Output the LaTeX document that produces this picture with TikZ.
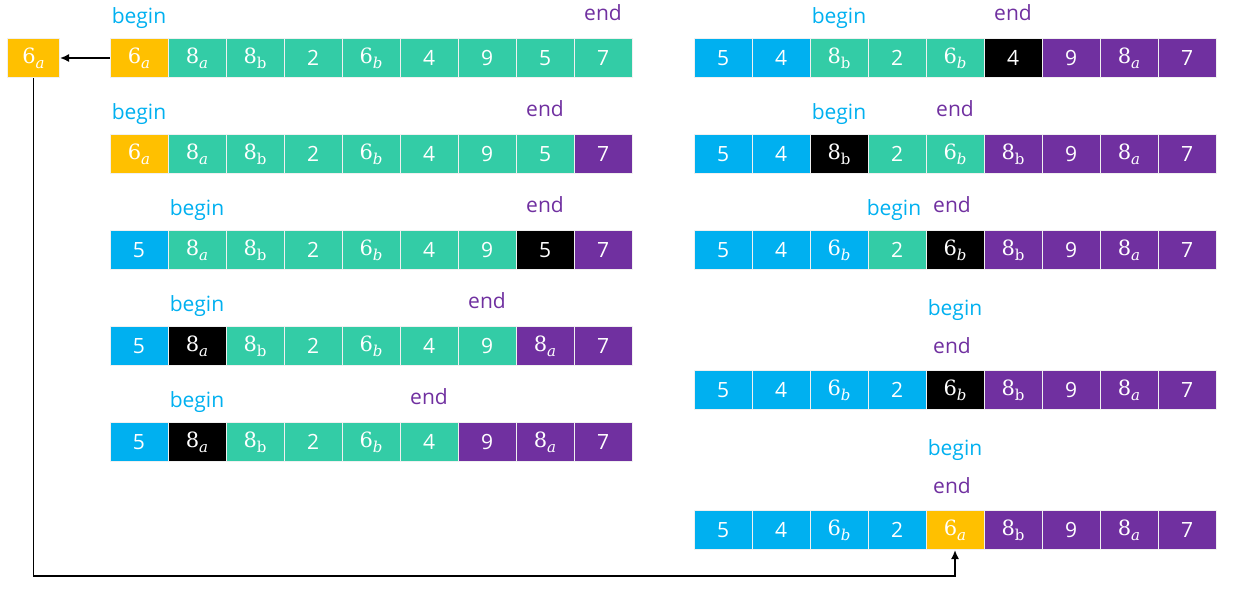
\documentclass[tikz,border=0pt]{standalone}
\usepackage{fontspec}
\newfontfamily\osans{Open Sans}
\newfontfamily\dserif{DejaVu Serif}
\usepackage{tikz}
\usetikzlibrary{arrows.meta,positioning}
\definecolor{blu}{HTML}{00B0F0}
\definecolor{grn}{HTML}{33CCA6}
\definecolor{pur}{HTML}{7030A0}
\definecolor{yel}{HTML}{FFC000}
\definecolor{blk}{HTML}{000000}
\newcommand{\subs}[2]{{\dserif #1\raisebox{-5pt}{\fontsize{15}{15}\selectfont #2}}}
\newcommand{\sixa}{\subs{6}{\itshape a}}
\newcommand{\sixb}{\subs{6}{\itshape b}}
\newcommand{\eighta}{\subs{8}{\itshape a}}
\newcommand{\eightb}{\subs{8}{b}}

\begin{document}
\begin{tikzpicture}
[x=1pt,y=-1pt,font=\osans\fontsize{21}{25}\selectfont]
\tikzstyle{cell}=[draw=white!88!gray, line width=1pt, text=white, minimum width=58pt, minimum height=39pt, inner sep=0pt]
\tikzstyle{lbegin}=[text=blu, anchor=base]
\tikzstyle{lend}=[text=pur, anchor=base]
\tikzstyle{move}=[-{Latex[length=9pt,width=8pt]}, line width=1.6pt]

\useasboundingbox (0,0) rectangle (1238,592);

\draw node [cell, fill=yel, minimum width=52pt] (piv) at (33.5,58) {\sixa};

% left column
\foreach \c/\t [count=\i] in {yel/\sixa, grn/\eighta, grn/\eightb, grn/2, grn/\sixb, grn/4, grn/9, grn/5, grn/7}
  \node [cell, fill=\c] (L1-\i) at ({81+58*\i},58) {\t};
\foreach \c/\t [count=\i] in {yel/\sixa, grn/\eighta, grn/\eightb, grn/2, grn/\sixb, grn/4, grn/9, grn/5, pur/7}
  \node [cell, fill=\c] (L2-\i) at ({81+58*\i},154) {\t};
\foreach \c/\t [count=\i] in {blu/5, grn/\eighta, grn/\eightb, grn/2, grn/\sixb, grn/4, grn/9, blk/5, pur/7}
  \node [cell, fill=\c] (L3-\i) at ({81+58*\i},250) {\t};
\foreach \c/\t [count=\i] in {blu/5, blk/\eighta, grn/\eightb, grn/2, grn/\sixb, grn/4, grn/9, pur/\eighta, pur/7}
  \node [cell, fill=\c] (L4-\i) at ({81+58*\i},346) {\t};
\foreach \c/\t [count=\i] in {blu/5, blk/\eighta, grn/\eightb, grn/2, grn/\sixb, grn/4, pur/9, pur/\eighta, pur/7}
  \node [cell, fill=\c] (L5-\i) at ({81+58*\i},442) {\t};

% right column
\foreach \c/\t [count=\i] in {blu/5, blu/4, grn/\eightb, grn/2, grn/\sixb, blk/4, pur/9, pur/\eighta, pur/7}
  \node [cell, fill=\c] (R1-\i) at ({665+58*\i},58) {\t};
\foreach \c/\t [count=\i] in {blu/5, blu/4, blk/\eightb, grn/2, grn/\sixb, pur/\eightb, pur/9, pur/\eighta, pur/7}
  \node [cell, fill=\c] (R2-\i) at ({665+58*\i},154) {\t};
\foreach \c/\t [count=\i] in {blu/5, blu/4, blu/\sixb, grn/2, blk/\sixb, pur/\eightb, pur/9, pur/\eighta, pur/7}
  \node [cell, fill=\c] (R3-\i) at ({665+58*\i},250) {\t};
\foreach \c/\t [count=\i] in {blu/5, blu/4, blu/\sixb, blu/2, blk/\sixb, pur/\eightb, pur/9, pur/\eighta, pur/7}
  \node [cell, fill=\c] (R4-\i) at ({665+58*\i},390) {\t};
\foreach \c/\t [count=\i] in {blu/5, blu/4, blu/\sixb, blu/2, yel/\sixa, pur/\eightb, pur/9, pur/\eighta, pur/7}
  \node [cell, fill=\c] (R5-\i) at ({665+58*\i},530) {\t};

% begin / end
\draw node [lbegin] (L1b) at ([yshift=15pt]L1-1.north) {begin};
\draw node [lend] (L1e) at ([yshift=18pt]L1-9.north) {end};
\draw node [lbegin] (L2b) at ([yshift=15pt]L2-1.north) {begin};
\draw node [lend] (L2e) at ([yshift=18pt]L2-8.north) {end};
\draw node [lbegin] (L3b) at ([yshift=15pt]L3-2.north) {begin};
\draw node [lend] (L3e) at ([yshift=18pt]L3-8.north) {end};
\draw node [lbegin] (L4b) at ([yshift=15pt]L4-2.north) {begin};
\draw node [lend] (L4e) at ([yshift=18pt]L4-7.north) {end};
\draw node [lbegin] (L5b) at ([yshift=15pt]L5-2.north) {begin};
\draw node [lend] (L5e) at ([yshift=18pt]L5-6.north) {end};

\draw node [lbegin] (R1b) at ([yshift=15pt]R1-3.north) {begin};
\draw node [lend] (R1e) at ([yshift=18pt]R1-6.north) {end};
\draw node [lbegin] (R2b) at ([yshift=15pt]R2-3.north) {begin};
\draw node [lend] (R2e) at ([yshift=18pt]R2-5.north) {end};
\draw node [lbegin] (R3b) at ([yshift=15pt,xshift=-3pt]R3-4.north) {begin};
\draw node [lend] (R3e) at ([yshift=18pt,xshift=-3pt]R3-5.north) {end};
\draw node [lbegin] (R4b) at ([yshift=55pt]R4-5.north) {begin};
\draw node [lend] (R4e) at ([yshift=17pt,xshift=-3pt]R4-5.north) {end};
\draw node [lbegin] (R5b) at ([yshift=55pt]R5-5.north) {begin};
\draw node [lend] (R5e) at ([yshift=17pt,xshift=-3pt]R5-5.north) {end};

% arrows
\draw [move] (L1-1.west) -- (piv.east);
\draw [move] (piv.south) |- ([yshift=-26pt]R5-5.south) -- (R5-5.south);
\end{tikzpicture}
\end{document}
